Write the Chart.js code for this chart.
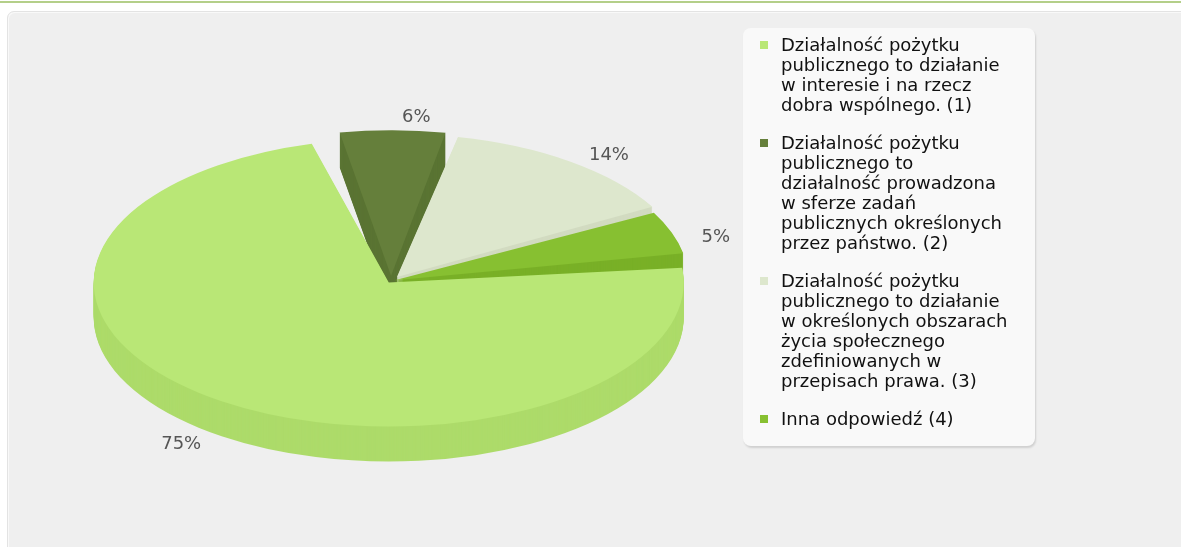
<!DOCTYPE html>
<html>
<head>
<meta charset="utf-8">
<script src="https://cdn.jsdelivr.net/npm/chart.js@4/dist/chart.umd.min.js"></script>
<style>
  html, body { margin:0; padding:0; background:#ffffff; width:1181px; height:547px; overflow:hidden; font-family:"DejaVu Sans", Verdana, sans-serif; }
  #topline { position:absolute; left:0; top:1px; width:1181px; height:2px; background:#b4cf89; }
  #panel { position:absolute; left:7px; top:11px; width:1200px; height:560px; background:#efefef; border:1px solid #e3e3e3; border-radius:7px; box-shadow: inset 1px 1px 0 #f9f9f9; }
  #chart { position:absolute; left:0; top:0; }
  #legend { position:absolute; left:743px; top:28px; width:292px; height:418px; background:#f9f9f9; border-radius:8px; box-shadow:1px 2px 2px rgba(0,0,0,0.13); box-sizing:border-box; padding-top:7px; }
  .item { position:relative; padding-left:38px; font-size:18px; line-height:20px; color:#111; margin-bottom:18px; white-space:nowrap; }
  .item .box { position:absolute; left:17px; top:6px; width:8px; height:8px; }
</style>
</head>
<body>
<div id="topline"></div>
<div id="panel"></div>
<canvas id="chart" width="1181" height="547"></canvas>
<div id="legend"></div>
<script>
// ---- data ----
const categories = [
  'Działalność pożytku publicznego to działanie w interesie i na rzecz dobra wspólnego. (1)',
  'Działalność pożytku publicznego to działalność prowadzona w sferze zadań publicznych określonych przez państwo. (2)',
  'Działalność pożytku publicznego to działanie w określonych obszarach życia społecznego zdefiniowanych w przepisach prawa. (3)',
  'Inna odpowiedź (4)'
];
const legendLines = [
  ['Działalność pożytku', 'publicznego to działanie', 'w interesie i na rzecz', 'dobra wspólnego. (1)'],
  ['Działalność pożytku', 'publicznego to', 'działalność prowadzona', 'w sferze zadań', 'publicznych określonych', 'przez państwo. (2)'],
  ['Działalność pożytku', 'publicznego to działanie', 'w określonych obszarach', 'życia społecznego', 'zdefiniowanych w', 'przepisach prawa. (3)'],
  ['Inna odpowiedź (4)']
];
const shareValues = [75, 6, 14, 5];
const shareLabels = ['75%', '6%', '14%', '5%'];

// ---- styles ----
const topColors  = ['#b9e776', '#657f3b', '#dde7cd', '#87c031'];
const sideColors = ['#addb6a', '#5a7433', '#d2dbc1', '#79b027'];
const sliceOffsets = [16, 44, 40, 16];
const TILT = 0.488;
const DEPTH = 35;
const LABEL_R = 337;
const LABEL_TURN = 4 * Math.PI / 180;

// legend (HTML, real text)
const legendEl = document.getElementById('legend');
legendLines.forEach((lines, i) => {
  const d = document.createElement('div');
  d.className = 'item';
  d.title = categories[i];
  const b = document.createElement('span');
  b.className = 'box';
  b.style.background = topColors[i];
  d.appendChild(b);
  lines.forEach((ln, j) => {
    if (j) d.appendChild(document.createElement('br'));
    d.appendChild(document.createTextNode(ln));
  });
  legendEl.appendChild(d);
});

function tiltAbout(ctx, cx, cy) {
  ctx.translate(cx, cy);
  ctx.scale(1, TILT);
  ctx.translate(-cx, -cy);
}

const pie3d = {
  id: 'pie3d',
  beforeDatasetsDraw(chart) {
    const ctx = chart.ctx;
    const meta = chart.getDatasetMeta(0);
    const cx = meta.data[0].x, cy = meta.data[0].y;
    // back-to-front order by mid angle
    const order = meta.data.map((a, i) => i).sort((p, q) => {
      const ap = meta.data[p], aq = meta.data[q];
      return Math.sin((ap.startAngle + ap.endAngle) / 2) - Math.sin((aq.startAngle + aq.endAngle) / 2);
    });
    order.forEach(i => {
      const arc = meta.data[i];
      const proxy = Object.create(arc);
      proxy.options = Object.assign({}, arc.options, {
        backgroundColor: sideColors[i], borderColor: sideColors[i], borderWidth: 0
      });
      for (let k = DEPTH; k >= 1; k--) {
        ctx.save();
        ctx.translate(0, k);
        tiltAbout(ctx, cx, cy);
        proxy.draw(ctx);
        ctx.restore();
      }
    });
    ctx.save();
    tiltAbout(ctx, cx, cy);
  },
  afterDatasetsDraw(chart) {
    const ctx = chart.ctx;
    ctx.restore();
    const meta = chart.getDatasetMeta(0);
    ctx.save();
    ctx.font = '18px "DejaVu Sans", Verdana, sans-serif';
    ctx.fillStyle = '#555555';
    ctx.textBaseline = 'middle';
    ctx.textAlign = 'center';
    meta.data.forEach((arc, i) => {
      const mid = (arc.startAngle + arc.endAngle) / 2 + LABEL_TURN;
      const s = Math.sin(mid), c = Math.cos(mid);
      const x = arc.x + c * LABEL_R;
      const y = arc.y + s * LABEL_R * TILT + (s > 0 ? DEPTH : 0);
      ctx.fillText(shareLabels[i], x, y);
    });
    ctx.restore();
  }
};

new Chart(document.getElementById('chart'), {
  type: 'pie',
  data: {
    labels: categories,
    datasets: [{
      data: shareValues,
      backgroundColor: topColors,
      borderWidth: 0,
      offset: sliceOffsets,
      spacing: 10,
      clip: false
    }]
  },
  options: {
    responsive: false,
    devicePixelRatio: 1,
    animation: false,
    events: [],
    rotation: 79.5,
    radius: 286,
    layout: { padding: { left: 0, right: 399, top: 18, bottom: 3 } },
    plugins: {
      legend: { display: false },
      tooltip: { enabled: false }
    }
  },
  plugins: [pie3d]
});
</script>
</body>
</html>
